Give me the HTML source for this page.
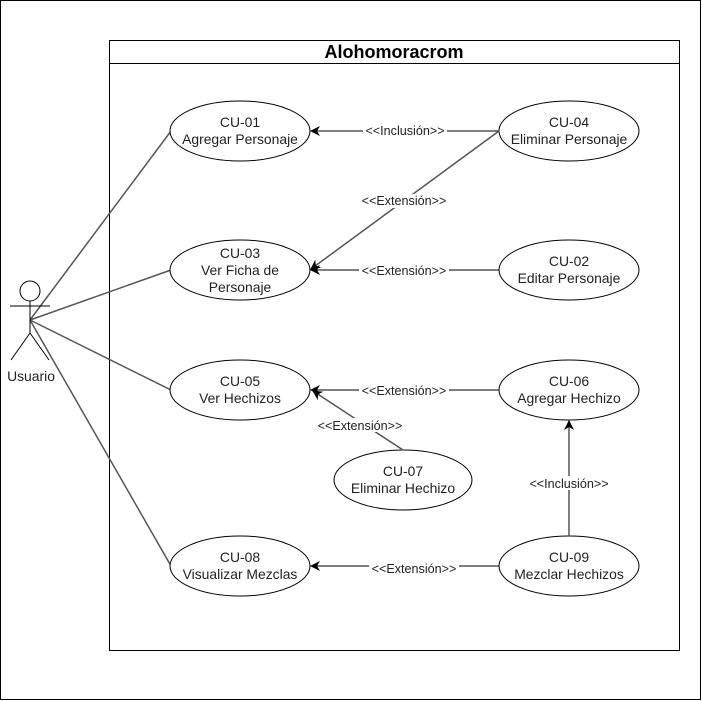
<!DOCTYPE html>
<html><head><style>body{margin:0;background:#fff}svg{display:block}text{font-family:"Liberation Sans",Arial,sans-serif;font-size:13.9px;fill:#222}.e{font-size:12.6px}</style></head><body>
<svg width="702" height="701" viewBox="0 0 702 701" xmlns="http://www.w3.org/2000/svg">
<defs><marker id="a" viewBox="0 0 10 10" refX="9" refY="5" markerWidth="10" markerHeight="10" markerUnits="userSpaceOnUse" orient="auto"><path d="M0,0 L10,5 L0,10 L3,5 Z" fill="#000"/></marker></defs>
<rect x="0.5" y="0.5" width="700" height="699" fill="#fff" stroke="#000"/>
<rect x="109.5" y="40.5" width="570" height="610" fill="#fff" stroke="#000"/>
<line x1="109.5" y1="63.5" x2="679.5" y2="63.5" stroke="#000"/>
<text x="394" y="58" text-anchor="middle" style="font-size:18px;font-weight:bold;fill:#000">Alohomoracrom</text>
<g stroke="#555" stroke-width="1.5" fill="none">
<line x1="30" y1="320" x2="171" y2="131"/>
<line x1="30" y1="320" x2="171" y2="270"/>
<line x1="30" y1="320" x2="171" y2="390"/>
<line x1="30" y1="320" x2="171" y2="566"/>
</g>
<g stroke="#000" fill="none">
<circle cx="30" cy="291" r="10"/>
<line x1="30" y1="301" x2="30" y2="333"/>
<line x1="10" y1="306" x2="50" y2="306"/>
<line x1="30" y1="333" x2="11" y2="360"/>
<line x1="30" y1="333" x2="49" y2="360"/>
</g>
<text x="31" y="381" text-anchor="middle">Usuario</text>
<g stroke="#000" fill="#fff">
<ellipse cx="240" cy="131" rx="70" ry="30"/>
<ellipse cx="240" cy="270" rx="70" ry="30"/>
<ellipse cx="240" cy="390" rx="70" ry="30"/>
<ellipse cx="240" cy="566" rx="70" ry="30"/>
<ellipse cx="569" cy="131" rx="70" ry="30"/>
<ellipse cx="569" cy="270" rx="70" ry="30"/>
<ellipse cx="569" cy="390" rx="70" ry="30"/>
<ellipse cx="403" cy="480" rx="69" ry="30"/>
<ellipse cx="569" cy="566" rx="70" ry="30"/>
</g>
<g stroke="#000" stroke-width="1" fill="none" marker-end="url(#a)">
<line x1="499" y1="131" x2="311" y2="131"/>
<line x1="499" y1="131" x2="311" y2="269" stroke="#555" stroke-width="1.5"/>
<line x1="499" y1="270" x2="311" y2="270"/>
<line x1="499" y1="390" x2="311" y2="390"/>
<line x1="403" y1="450" x2="313" y2="391" stroke="#555" stroke-width="1.5"/>
<line x1="569" y1="536" x2="569" y2="421" stroke="#555" stroke-width="1.5"/>
<line x1="499" y1="566" x2="311" y2="566"/>
</g>
<g text-anchor="middle" class="e">
<rect x="363" y="124" width="84" height="14" fill="#fff"/><text class="e" x="405" y="135">&lt;&lt;Inclusión&gt;&gt;</text>
<rect x="359" y="194" width="90" height="14" fill="#fff"/><text class="e" x="404" y="205">&lt;&lt;Extensión&gt;&gt;</text>
<rect x="359" y="263" width="90" height="14" fill="#fff"/><text class="e" x="404" y="275">&lt;&lt;Extensión&gt;&gt;</text>
<rect x="359" y="383" width="90" height="14" fill="#fff"/><text class="e" x="404" y="395">&lt;&lt;Extensión&gt;&gt;</text>
<rect x="315" y="418" width="90" height="14" fill="#fff"/><text class="e" x="360" y="430">&lt;&lt;Extensión&gt;&gt;</text>
<rect x="527" y="476" width="84" height="14" fill="#fff"/><text class="e" x="569" y="488">&lt;&lt;Inclusión&gt;&gt;</text>
<rect x="369" y="561" width="90" height="14" fill="#fff"/><text class="e" x="414" y="573">&lt;&lt;Extensión&gt;&gt;</text>
</g>
<g text-anchor="middle">
<text x="240" y="127">CU-01</text><text x="240" y="144">Agregar Personaje</text>
<text x="240" y="258">CU-03</text><text x="240" y="275">Ver Ficha de</text><text x="240" y="292">Personaje</text>
<text x="240" y="386">CU-05</text><text x="240" y="403">Ver Hechizos</text>
<text x="240" y="562">CU-08</text><text x="240" y="579">Visualizar Mezclas</text>
<text x="569" y="127">CU-04</text><text x="569" y="144">Eliminar Personaje</text>
<text x="569" y="266">CU-02</text><text x="569" y="283">Editar Personaje</text>
<text x="569" y="386">CU-06</text><text x="569" y="403">Agregar Hechizo</text>
<text x="403" y="476">CU-07</text><text x="403" y="493">Eliminar Hechizo</text>
<text x="569" y="562">CU-09</text><text x="569" y="579">Mezclar Hechizos</text>
</g>
</svg>
</body></html>
